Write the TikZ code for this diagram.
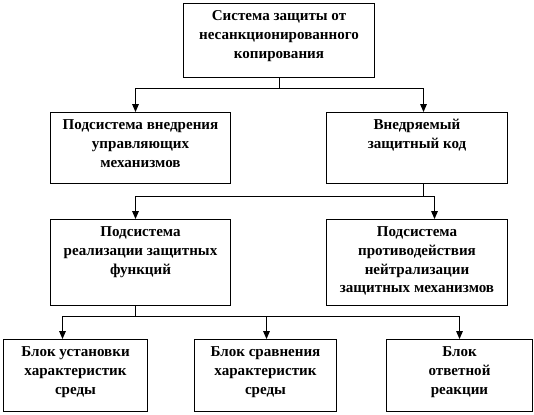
\documentclass[tikz,border=0pt]{standalone}
\usepackage{fontspec}
\setmainfont{Liberation Serif}
\usetikzlibrary{arrows.meta, calc}
\newdimen\pxu \pxu=0.75pt
\tikzset{
  box/.style 2 args={rectangle, draw=black, line width=0.75pt, inner sep=0pt,
    anchor=north west, font=\bfseries\fontsize{11.3}{14}\selectfont,
    execute at begin node={\begin{minipage}[t][#2\pxu][t]{#1\pxu}\centering\rule{0pt}{13pt}},
    execute at end node={\end{minipage}}},
  arrow/.style={-{Triangle[length=6pt, width=5pt]}, line width=0.75pt},
  link/.style={line width=0.75pt}
}

\begin{document}
\begin{tikzpicture}[x=0.75pt, y=-0.75pt]
  \useasboundingbox (0,0) rectangle (534,414);

  % Blocks
  \node[box={191}{74}] (sys) at (183,3) {Система защиты от\\несанкционированного\\копирования};
  \node[box={180}{71}] (embed) at (50,112) {Подсистема внедрения\\управляющих\\механизмов};
  \node[box={181}{71}] (code) at (326,112) {Внедряемый\\защитный код};
  \node[box={180}{86}] (impl) at (50,219) {Подсистема\\реализации защитных\\функций};
  \node[box={181}{86}] (counter) at (326,219) {Подсистема\\противодействия\\нейтрализации\\защитных механизмов};
  \node[box={144}{72}] (setup) at (3,339) {Блок установки\\характеристик\\среды};
  \node[box={142}{72}] (compare) at (194,339) {Блок сравнения\\характеристик\\среды};
  \node[box={146}{72}] (react) at (386,339) {Блок\\ответной\\реакции};

  % Paths
  \draw[link] (sys.south) -- ++(0,10) coordinate (j1);
  \draw[arrow] (j1) -| ($(embed.north)+(-5,0)$);
  \draw[arrow] (j1) -| ($(code.north)+(6.5,0)$);

  \draw[link] ($(code.south)+(6.5,0)$) -- ++(0,12) coordinate (j2);
  \draw[arrow] (j2) -| ($(impl.north)+(-5,0)$);
  \draw[arrow] (j2) -| ($(counter.north)+(17.5,0)$);

  \draw[link] ($(impl.south)+(-5,0)$) -- ++(0,10) coordinate (j3);
  \draw[arrow] (j3) -| ($(setup.north)+(-13,0)$);
  \draw[arrow] (j3) -| ($(compare.north)+(1,0)$);
  \draw[arrow] (j3) -| (react.north);
\end{tikzpicture}
\end{document}
